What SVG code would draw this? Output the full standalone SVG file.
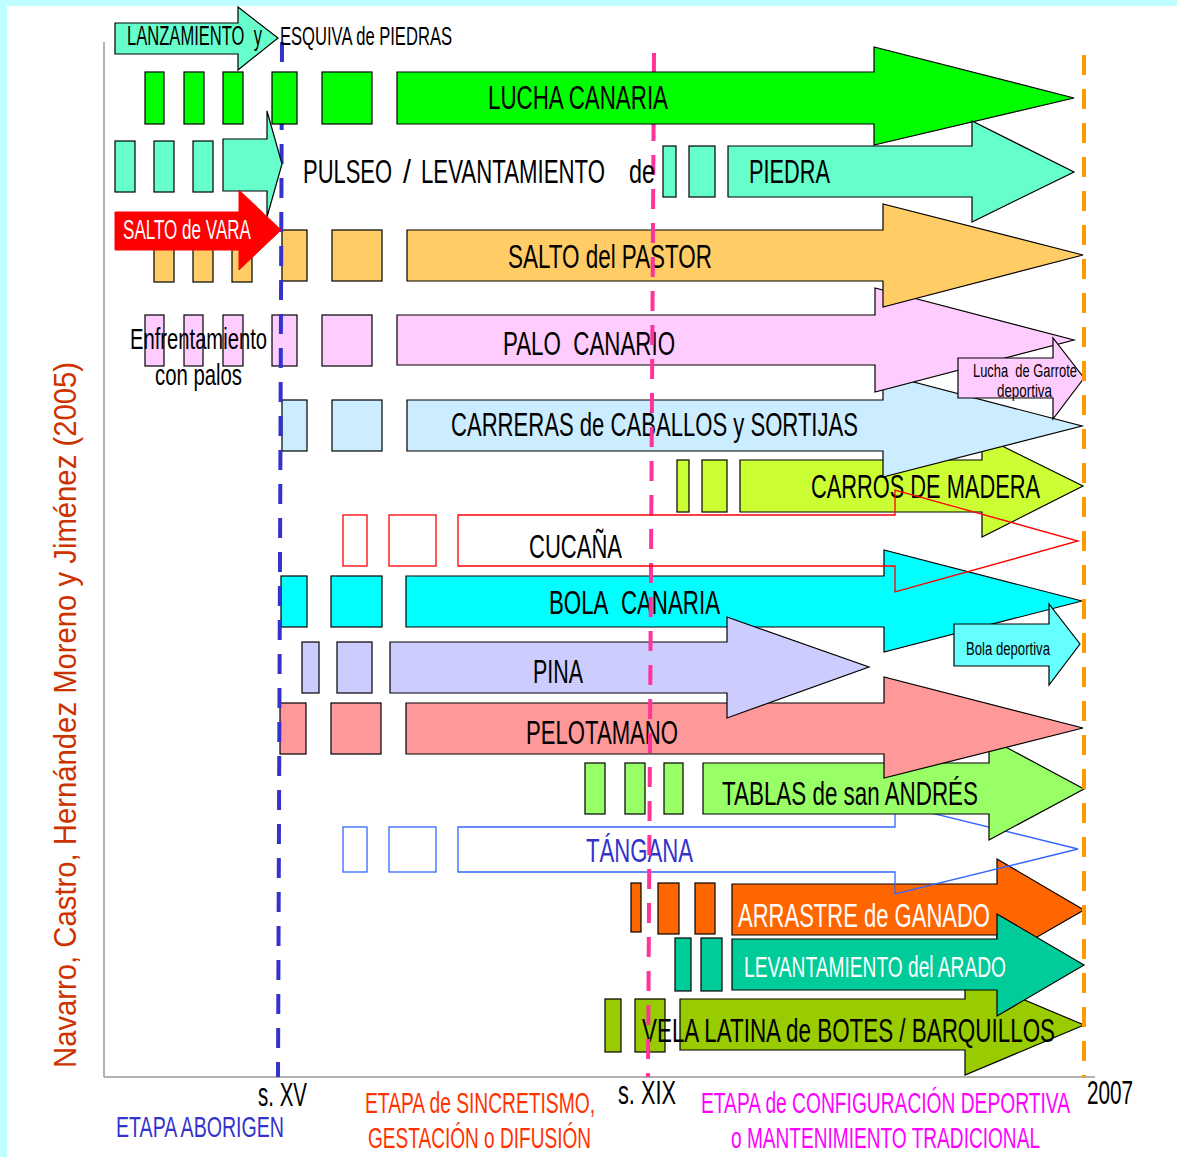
<svg xmlns="http://www.w3.org/2000/svg" width="1177" height="1157" viewBox="0 0 1177 1157">
<style>
.n{stroke:#000;stroke-width:1.2}
.t{font-family:"Liberation Sans Narrow","Liberation Sans",Arial,sans-serif;fill:#000}
.w{fill:#fff}
.dl{fill:none;stroke-width:4;stroke-dasharray:20 14}
</style>
<rect x="0" y="0" width="1177" height="1157" fill="#fff"/>
<rect x="0" y="0" width="1177" height="6" fill="#C0FFFF"/>
<rect x="0" y="0" width="7" height="1157" fill="#C0FFFF"/>
<g id="axes" stroke="#999" stroke-width="1.5" fill="none">
<line x1="104" y1="42" x2="104" y2="1077"/>
<line x1="104" y1="1077" x2="1095" y2="1077"/>
</g>

<g id="vela" fill="#99CC00" class="n">
<rect x="605" y="999" width="16" height="53"/><rect x="635" y="999" width="30" height="53"/>
<polygon points="680,999 965,999 965,975 1084,1025 965,1075 965,1050 680,1050"/>
<text class="t" stroke="none" x="642" y="1042" font-size="33" textLength="413" lengthAdjust="spacingAndGlyphs">VELA LATINA de BOTES / BARQUILLOS</text>
</g>
<g id="arrastre" fill="#FF6600" class="n">
<rect x="631" y="883" width="10" height="49"/><rect x="658" y="883" width="21" height="51"/><rect x="695" y="883" width="20" height="51"/>
<polygon points="732,884 997,884 997,859 1084,910 997,960 997,935 732,935"/>
<text class="t w" stroke="none" x="738" y="927" font-size="33" textLength="252" lengthAdjust="spacingAndGlyphs">ARRASTRE de GANADO</text>
</g>
<g id="arado" fill="#00CC99" class="n">
<rect x="675" y="938" width="16" height="53"/><rect x="701" y="938" width="21" height="53"/>
<polygon points="732,939 997,939 997,914 1084,965 997,1016 997,990 732,990"/>
<text class="t w" stroke="none" x="744" y="977" font-size="30" textLength="262" lengthAdjust="spacingAndGlyphs">LEVANTAMIENTO del ARADO</text>
</g>
<g id="tangana" fill="none" stroke="#3366FF" stroke-width="1.3">
<rect x="343" y="827" width="24" height="45"/><rect x="389" y="827" width="47" height="45"/>
<polygon points="458,827 895,827 895,804 1078,849 895,894 895,872 458,872"/>
<text class="t" stroke="none" style="fill:#3333CC" x="586" y="862" font-size="33" textLength="107" lengthAdjust="spacingAndGlyphs">TÁNGANA</text>
</g>
<g id="tablas" fill="#99FF66" class="n">
<rect x="585" y="763" width="20" height="51"/><rect x="625" y="763" width="20" height="51"/><rect x="664" y="763" width="19" height="51"/>
<polygon points="703,763 989,763 989,738 1084,789 989,840 989,814 703,814"/>
<text class="t" stroke="none" x="722" y="805" font-size="33" textLength="256" lengthAdjust="spacingAndGlyphs">TABLAS de san ANDRÉS</text>
</g>
<g id="pelotamano" fill="#FF9999" class="n">
<rect x="280" y="703" width="26" height="51"/><rect x="331" y="703" width="50" height="51"/>
<polygon points="406,703 884,703 884,677 1083,728 884,778 884,754 406,754"/>
<text class="t" stroke="none" x="526" y="744" font-size="33" textLength="152" lengthAdjust="spacingAndGlyphs">PELOTAMANO</text>
</g>
<g id="bola" fill="#00FFFF" class="n">
<rect x="281" y="576" width="26" height="51"/><rect x="331" y="576" width="51" height="51"/>
<polygon points="406,576 884,576 884,550 1082,601 884,652 884,627 406,627"/>
<text class="t" stroke="none" x="549" y="614" font-size="33" textLength="171" lengthAdjust="spacingAndGlyphs">BOLA&#160; CANARIA</text>
</g>
<g id="pina" fill="#CCCCFF" class="n">
<rect x="302" y="642" width="17" height="51"/><rect x="337" y="642" width="35" height="51"/>
<polygon points="390,642 727,642 727,617 869,667 727,718 727,693 390,693"/>
<text class="t" stroke="none" x="533" y="683" font-size="33" textLength="50" lengthAdjust="spacingAndGlyphs">PINA</text>
</g>
<g id="bola-deportiva" fill="#66FFFF" class="n">
<polygon points="954,624 1049,624 1049,604 1080,644 1049,685 1049,666 954,666"/>
<text class="t" stroke="none" x="966" y="655" font-size="18" textLength="84" lengthAdjust="spacingAndGlyphs">Bola deportiva</text>
</g>
<g id="carros" fill="#CCFF33" class="n">
<rect x="677" y="460" width="12" height="52"/><rect x="702" y="460" width="25" height="52"/>
<polygon points="740,460 982,460 982,436 1083,486 982,537 982,512 740,512"/>
<text class="t" stroke="none" x="811" y="498" font-size="33" textLength="229" lengthAdjust="spacingAndGlyphs">CARROS DE MADERA</text>
</g>
<g id="carreras" fill="#CCECFF" class="n">
<rect x="282" y="400" width="25" height="51"/><rect x="332" y="400" width="50" height="51"/>
<polygon points="407,400 883,400 883,374 1082,426 883,477 883,451 407,451"/>
<text class="t" stroke="none" x="451" y="436" font-size="33" textLength="407" lengthAdjust="spacingAndGlyphs">CARRERAS de CABALLOS y SORTIJAS</text>
</g>
<g id="palo" fill="#FFCCFF" class="n">
<rect x="145" y="315" width="19" height="51"/><rect x="184" y="315" width="19" height="51"/><rect x="223" y="315" width="20" height="51"/>
<rect x="272" y="315" width="25" height="51"/><rect x="322" y="315" width="50" height="51"/>
<polygon points="397,315 875,315 875,288 1074,340 875,392 875,365 397,365"/>
<text class="t" stroke="none" x="503" y="355" font-size="33" textLength="172" lengthAdjust="spacingAndGlyphs">PALO&#160; CANARIO</text>
<text class="t" stroke="none" x="130" y="349" font-size="29" textLength="137" lengthAdjust="spacingAndGlyphs">Enfrentamiento</text>
<text class="t" stroke="none" x="155" y="385" font-size="29" textLength="87" lengthAdjust="spacingAndGlyphs">con palos</text>
</g>
<g id="pastor" fill="#FFCC66" class="n">
<rect x="154" y="230" width="20" height="52"/><rect x="193" y="230" width="20" height="52"/><rect x="232" y="230" width="20" height="52"/>
<rect x="282" y="230" width="25" height="51"/><rect x="332" y="230" width="50" height="51"/>
<polygon points="407,230 883,230 883,204 1083,255 883,307 883,281 407,281"/>
<text class="t" stroke="none" x="508" y="268" font-size="33" textLength="204" lengthAdjust="spacingAndGlyphs">SALTO del PASTOR</text>
</g>
<g id="garrote" fill="#FFCCFF" class="n">
<polygon points="958,358 1053,358 1053,338 1084,378 1053,419 1053,398 958,398"/>
<text class="t" stroke="none" x="973" y="377" font-size="19" textLength="104" lengthAdjust="spacingAndGlyphs">Lucha&#160; de Garrote</text>
<text class="t" stroke="none" x="997" y="397" font-size="19" textLength="55" lengthAdjust="spacingAndGlyphs">deportiva</text>
</g>

<g id="timelines">
<line class="dl" x1="282" y1="42" x2="278" y2="1077" stroke="#3333CC"/>
<line class="dl" x1="654" y1="53" x2="648" y2="1077" stroke="#FF3399"/>
<line class="dl" x1="1084" y1="55" x2="1084" y2="1077" stroke="#FF9900"/>
</g>

<g id="lucha" fill="#00FF00" class="n">
<rect x="145" y="72" width="19" height="52"/><rect x="184" y="72" width="20" height="52"/><rect x="223" y="72" width="20" height="52"/>
<rect x="272" y="72" width="25" height="52"/><rect x="322" y="72" width="50" height="52"/>
<polygon points="397,72 874,72 874,47 1074,98 874,145 874,124 397,124"/>
<text class="t" stroke="none" x="488" y="109" font-size="33" textLength="180" lengthAdjust="spacingAndGlyphs">LUCHA CANARIA</text>
</g>
<g id="pulseo" fill="#66FFCC" class="n">
<rect x="115" y="141" width="20" height="51"/><rect x="154" y="141" width="20" height="51"/><rect x="193" y="141" width="20" height="51"/>
<polygon points="223,139 267,139 267,111 282,164 267,217 267,191 223,191"/>
<text class="t" stroke="none" y="183" font-size="34"><tspan x="303" textLength="89" lengthAdjust="spacingAndGlyphs">PULSEO</tspan><tspan x="403" textLength="8" lengthAdjust="spacingAndGlyphs">/</tspan><tspan x="421" textLength="184" lengthAdjust="spacingAndGlyphs">LEVANTAMIENTO</tspan><tspan x="629" textLength="26" lengthAdjust="spacingAndGlyphs">de</tspan></text>
</g>
<g id="piedra" fill="#66FFCC" class="n">
<rect x="663" y="146" width="13" height="51"/><rect x="689" y="146" width="26" height="51"/>
<polygon points="728,146 972,146 972,121 1074,172 972,222 972,197 728,197"/>
<text class="t" stroke="none" x="749" y="183" font-size="33" textLength="81" lengthAdjust="spacingAndGlyphs">PIEDRA</text>
</g>
<g id="salto-vara" fill="#FF0000" stroke="#FF0000" stroke-width="1">
<polygon points="115,212 239,212 239,190 281,230 239,270 239,250 115,250"/>
<text class="t w" stroke="none" x="123" y="239" font-size="27" textLength="128" lengthAdjust="spacingAndGlyphs">SALTO de VARA</text>
</g>
<g id="lanzamiento" fill="#66FFCC" class="n">
<polygon points="115,23 238,23 238,7 278,38 238,70 238,54 115,54"/>
<text class="t" stroke="none" x="127" y="45" font-size="27" textLength="135" lengthAdjust="spacingAndGlyphs">LANZAMIENTO&#160; y</text>
<text class="t" stroke="none" x="280" y="45" font-size="25" textLength="172" lengthAdjust="spacingAndGlyphs">ESQUIVA de PIEDRAS</text>
</g>
<g id="cucana" fill="none" stroke="#FF0000" stroke-width="1.3">
<rect x="343" y="515" width="24" height="51"/><rect x="389" y="515" width="47" height="51"/>
<polygon points="458,515 895,515 895,490 1078,541 895,592 895,566 458,566"/>
<text class="t" stroke="none" x="529" y="558" font-size="34" textLength="93" lengthAdjust="spacingAndGlyphs">CUCAÑA</text>
</g>

<g id="labels">
<text class="t" x="258" y="1106" font-size="33" textLength="49" lengthAdjust="spacingAndGlyphs">s. XV</text>
<text class="t" style="fill:#3333CC" x="116" y="1137" font-size="29" textLength="168" lengthAdjust="spacingAndGlyphs">ETAPA ABORIGEN</text>
<text class="t" style="fill:#FF3300" x="365" y="1113" font-size="29" textLength="230" lengthAdjust="spacingAndGlyphs">ETAPA de SINCRETISMO,</text>
<text class="t" style="fill:#FF3300" x="368" y="1148" font-size="29" textLength="223" lengthAdjust="spacingAndGlyphs">GESTACIÓN o DIFUSIÓN</text>
<text class="t" x="618" y="1104" font-size="33" textLength="58" lengthAdjust="spacingAndGlyphs">s. XIX</text>
<text class="t" style="fill:#FF00FF" x="701" y="1113" font-size="29" textLength="369" lengthAdjust="spacingAndGlyphs">ETAPA de CONFIGURACIÓN DEPORTIVA</text>
<text class="t" style="fill:#FF00FF" x="731" y="1148" font-size="29" textLength="309" lengthAdjust="spacingAndGlyphs">o MANTENIMIENTO TRADICIONAL</text>
<text class="t" x="1087" y="1104" font-size="33" textLength="46" lengthAdjust="spacingAndGlyphs">2007</text>
<text class="t" style="fill:#CC3300" transform="translate(76,1068) rotate(-90)" font-size="32" textLength="706" lengthAdjust="spacingAndGlyphs">Navarro, Castro, Hernández Moreno y Jiménez (2005)</text>
</g>
</svg>
